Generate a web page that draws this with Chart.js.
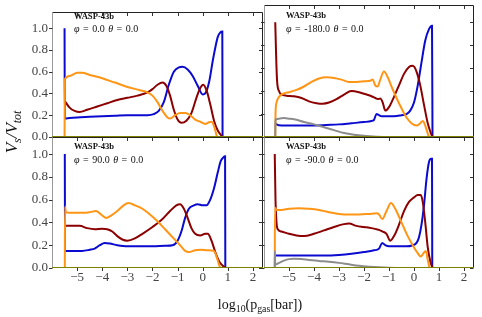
<!DOCTYPE html>
<html><head><meta charset="utf-8">
<script src="https://cdn.jsdelivr.net/npm/chart.js@4/dist/chart.umd.min.js"></script>
<style>
html,body{margin:0;padding:0;background:#fff;}
#fig{position:relative;width:482px;height:317px;overflow:hidden;font-family:"Liberation Serif","DejaVu Serif",serif;color:#111;}
#fig canvas{position:absolute;left:0;top:0;}
.ann{position:absolute;font-size:9px;line-height:1;white-space:nowrap;color:#111;}
.t1{font-weight:bold;font-size:8.6px;}
.t2{font-size:10px;word-spacing:1px;}
.sb{font-size:70%;position:relative;top:0.3em;}
</style></head><body>
<div id="fig">
<canvas id="c0" width="482" height="317"></canvas>
<canvas id="c1" width="482" height="317"></canvas>
<canvas id="c2" width="482" height="317"></canvas>
<canvas id="c3" width="482" height="317"></canvas>
<div class="ann t1" style="left:74px;top:12px">WASP-43b</div>
<div class="ann t2" style="left:74px;top:24px"><i>φ</i> = 0.0 <i>θ</i> = 0.0</div>
<div class="ann t1" style="left:286px;top:11px">WASP-43b</div>
<div class="ann t2" style="left:286px;top:24px"><i>φ</i> = -180.0 <i>θ</i> = 0.0</div>
<div class="ann t1" style="left:74px;top:141.5px">WASP-43b</div>
<div class="ann t2" style="left:74px;top:155px"><i>φ</i> = 90.0 <i>θ</i> = 0.0</div>
<div class="ann t1" style="left:286px;top:141.5px">WASP-43b</div>
<div class="ann t2" style="left:286px;top:155px"><i>φ</i> = -90.0 <i>θ</i> = 0.0</div>
<div style="position:absolute;left:-33px;top:122px;width:90px;height:20px;line-height:20px;text-align:center;transform:rotate(-90deg);font-size:17px;font-style:italic;white-space:nowrap">V<span class="sb">s</span>/V<span class="sb">tot</span></div>
<div style="position:absolute;left:160px;top:298px;width:200px;text-align:center;font-size:14px;line-height:1;white-space:nowrap">log<span class="sb">10</span>(p<span class="sb">gas</span>[bar])</div>
</div>
<script>
// ---- data: [log10 p_gas, V_s/V_tot] ----
const xTicks = [-5, -4, -3, -2, -1, 0, 1, 2];
const yTicks = [0.0, 0.2, 0.4, 0.6, 0.8, 1.0];

// phi = 0.0
const blue0 = [[-5.50,1.00],[-5.49,0.17],[-5.3,0.175],[-5,0.18],[-4.5,0.185],[-4,0.19],[-3.5,0.195],[-3,0.2],[-2.5,0.2],[-2.2,0.2],[-1.95,0.21],[-1.75,0.24],[-1.55,0.32],[-1.35,0.48],[-1.15,0.6],[-0.95,0.64],[-0.8,0.645],[-0.6,0.62],[-0.4,0.56],[-0.2,0.47],[0.0,0.39],[0.1,0.4],[0.25,0.5],[0.4,0.7],[0.5,0.82],[0.6,0.92],[0.7,0.96],[0.78,0.97],[0.79,0.0]];
const red0 = [[-5.49,0.33],[-5.3,0.27],[-5.1,0.24],[-4.9,0.23],[-4.6,0.25],[-4.2,0.28],[-3.8,0.31],[-3.4,0.34],[-3,0.36],[-2.6,0.38],[-2.2,0.41],[-2,0.44],[-1.8,0.48],[-1.6,0.5],[-1.45,0.47],[-1.3,0.38],[-1.15,0.25],[-1.0,0.16],[-0.85,0.13],[-0.65,0.15],[-0.45,0.22],[-0.25,0.36],[-0.1,0.45],[0.02,0.48],[0.15,0.43],[0.3,0.3],[0.45,0.15],[0.6,0.06],[0.79,0.0]];
const orange0 = [[-5.50,0.0],[-5.49,0.53],[-5.3,0.56],[-5.0,0.59],[-4.8,0.59],[-4.5,0.57],[-4,0.54],[-3.5,0.5],[-3,0.46],[-2.5,0.43],[-2.2,0.41],[-2,0.38],[-1.8,0.32],[-1.6,0.24],[-1.4,0.18],[-1.3,0.17],[-1.1,0.2],[-0.9,0.22],[-0.7,0.22],[-0.5,0.2],[-0.3,0.16],[-0.1,0.14],[0.1,0.12],[0.25,0.135],[0.35,0.14],[0.45,0.1],[0.57,0.0]];

// phi = -180.0
const blue180 = [[-5.55,0.12],[-5.5,0.11],[-5.3,0.1],[-5,0.1],[-4.5,0.1],[-4,0.1],[-3.5,0.105],[-3,0.11],[-2.5,0.12],[-2,0.13],[-1.7,0.14],[-1.6,0.15],[-1.5,0.2],[-1.4,0.19],[-1.3,0.18],[-1.1,0.18],[-0.8,0.18],[-0.5,0.19],[-0.3,0.2],[-0.15,0.23],[0.0,0.3],[0.15,0.45],[0.3,0.65],[0.45,0.84],[0.6,0.94],[0.72,0.97],[0.74,0.0]];
const red180 = [[-5.55,1.0],[-5.52,0.75],[-5.48,0.5],[-5.4,0.4],[-5.3,0.37],[-5.1,0.36],[-4.8,0.355],[-4.5,0.34],[-4.2,0.31],[-3.9,0.295],[-3.65,0.29],[-3.4,0.3],[-3.1,0.33],[-2.8,0.37],[-2.5,0.4],[-2.2,0.39],[-1.9,0.37],[-1.7,0.355],[-1.55,0.34],[-1.45,0.33],[-1.35,0.335],[-1.25,0.3],[-1.15,0.23],[-1.0,0.26],[-0.8,0.35],[-0.6,0.45],[-0.4,0.55],[-0.2,0.61],[-0.05,0.62],[0.1,0.57],[0.25,0.45],[0.4,0.28],[0.55,0.12],[0.68,0.03],[0.74,0.0]];
const orange180 = [[-5.55,0.0],[-5.54,0.2],[-5.5,0.3],[-5.4,0.35],[-5.2,0.38],[-5,0.39],[-4.7,0.41],[-4.4,0.44],[-4.1,0.48],[-3.8,0.51],[-3.5,0.52],[-3.2,0.515],[-2.9,0.5],[-2.6,0.48],[-2.3,0.48],[-2,0.485],[-1.75,0.49],[-1.65,0.5],[-1.55,0.45],[-1.45,0.44],[-1.35,0.5],[-1.2,0.57],[-1.05,0.52],[-0.9,0.44],[-0.7,0.34],[-0.5,0.25],[-0.3,0.17],[-0.1,0.12],[0.1,0.1],[0.25,0.12],[0.35,0.14],[0.45,0.1],[0.55,0.03],[0.6,0.0]];
const gray180 = [[-5.55,0.0],[-5.54,0.15],[-5.4,0.16],[-5.2,0.165],[-5,0.16],[-4.7,0.15],[-4.4,0.13],[-4.0,0.11],[-3.6,0.085],[-3.2,0.06],[-2.8,0.035],[-2.4,0.02],[-2,0.01],[-1.5,0.003],[-1,0.0],[0.7,0.0]];

// phi = 90.0
const blue90 = [[-5.49,1.0],[-5.48,0.15],[-5.2,0.15],[-4.8,0.15],[-4.5,0.16],[-4.3,0.17],[-4.1,0.2],[-3.9,0.22],[-3.7,0.215],[-3.4,0.2],[-3,0.19],[-2.5,0.19],[-2,0.19],[-1.5,0.195],[-1.2,0.2],[-1.0,0.24],[-0.85,0.32],[-0.7,0.44],[-0.55,0.52],[-0.35,0.55],[-0.2,0.56],[0.0,0.55],[0.15,0.55],[0.3,0.6],[0.45,0.7],[0.6,0.84],[0.72,0.94],[0.82,0.97],[0.89,0.98],[0.9,0.0]];
const red90 = [[-5.48,0.37],[-5.2,0.37],[-4.9,0.37],[-4.6,0.35],[-4.3,0.34],[-4.0,0.345],[-3.8,0.34],[-3.6,0.32],[-3.4,0.28],[-3.2,0.25],[-3.0,0.24],[-2.7,0.26],[-2.4,0.3],[-2.0,0.36],[-1.6,0.43],[-1.3,0.5],[-1.05,0.55],[-0.9,0.56],[-0.75,0.52],[-0.6,0.44],[-0.45,0.35],[-0.3,0.3],[-0.1,0.285],[0.1,0.3],[0.2,0.3],[0.35,0.24],[0.5,0.14],[0.65,0.06],[0.8,0.02],[0.9,0.0]];
const orange90 = [[-5.49,0.0],[-5.48,0.54],[-5.45,0.49],[-5.2,0.485],[-4.8,0.485],[-4.5,0.49],[-4.25,0.5],[-4.05,0.47],[-3.85,0.44],[-3.65,0.46],[-3.4,0.5],[-3.15,0.55],[-2.95,0.57],[-2.7,0.55],[-2.4,0.52],[-2.1,0.47],[-1.8,0.41],[-1.5,0.34],[-1.2,0.27],[-0.9,0.2],[-0.7,0.15],[-0.55,0.14],[-0.3,0.155],[-0.1,0.16],[0.2,0.155],[0.45,0.15],[0.55,0.1],[0.65,0.03],[0.7,0.0]];

// phi = -90.0
const blueM90 = [[-5.55,0.11],[-5.3,0.11],[-4.8,0.11],[-4.2,0.11],[-3.6,0.11],[-3.0,0.115],[-2.5,0.125],[-2.0,0.14],[-1.6,0.155],[-1.4,0.17],[-1.27,0.22],[-1.15,0.2],[-1.0,0.19],[-0.7,0.19],[-0.3,0.19],[-0.05,0.2],[0.1,0.22],[0.2,0.27],[0.3,0.38],[0.4,0.55],[0.5,0.78],[0.6,0.93],[0.68,0.96],[0.72,0.96],[0.73,0.0]];
const redM90 = [[-5.57,1.0],[-5.54,0.6],[-5.5,0.4],[-5.45,0.34],[-5.3,0.32],[-5.0,0.3],[-4.7,0.285],[-4.4,0.28],[-4.0,0.3],[-3.6,0.33],[-3.2,0.36],[-2.8,0.385],[-2.6,0.39],[-2.3,0.37],[-2.0,0.36],[-1.7,0.35],[-1.5,0.34],[-1.4,0.335],[-1.25,0.32],[-1.1,0.3],[-0.95,0.24],[-0.8,0.28],[-0.6,0.38],[-0.4,0.5],[-0.2,0.58],[0.0,0.62],[0.15,0.64],[0.27,0.64],[0.35,0.58],[0.45,0.4],[0.55,0.18],[0.65,0.06],[0.74,0.0]];
const orangeM90 = [[-5.57,0.0],[-5.56,0.53],[-5.5,0.51],[-5.3,0.51],[-5.0,0.52],[-4.6,0.525],[-4.2,0.52],[-3.8,0.51],[-3.4,0.49],[-3.0,0.475],[-2.6,0.47],[-2.2,0.47],[-1.8,0.475],[-1.5,0.48],[-1.4,0.47],[-1.27,0.43],[-1.1,0.5],[-0.92,0.57],[-0.75,0.52],[-0.5,0.4],[-0.25,0.28],[0.0,0.18],[0.15,0.13],[0.27,0.1],[0.38,0.13],[0.47,0.15],[0.55,0.07],[0.62,0.0]];
const grayM90 = [[-5.57,0.0],[-5.565,0.15],[-5.55,0.03],[-5.4,0.045],[-5.2,0.065],[-5.0,0.078],[-4.8,0.082],[-4.5,0.078],[-4.2,0.07],[-3.8,0.062],[-3.4,0.055],[-3.0,0.045],[-2.6,0.032],[-2.2,0.02],[-1.8,0.012],[-1.4,0.006],[-1,0.002],[-0.5,0.0],[0.7,0.0]];

const baseline = [[-6, 0], [2.4, 0]];

const COL = {blue:'#0a0ad0', red:'#8b0000', orange:'#ff9515', gray:'#8c8c8c', olive:'#808000'};
const XMIN = -6, XMAX = 2.4, YMIN = 0, YMAX = 1.15;

const framePlugin = {
  id: 'frame',
  beforeDatasetsDraw(chart) {
    const {ctx, chartArea: a, scales} = chart;
    const L = Math.round(a.left) + 0.5, R = Math.round(a.right) - 0.5;
    const T = Math.round(a.top) + 0.5, B = Math.round(a.bottom) - 0.5;
    ctx.save();
    ctx.lineWidth = 1;
    ctx.strokeStyle = '#222';
    ctx.beginPath();
    ctx.moveTo(L, T); ctx.lineTo(R, T); ctx.lineTo(R, B); ctx.lineTo(L, B);
    ctx.stroke();
    ctx.strokeStyle = '#999';
    ctx.beginPath(); ctx.moveTo(L, T); ctx.lineTo(L, B); ctx.stroke();
    ctx.strokeStyle = '#333';
    ctx.beginPath();
    for (const t of scales.x.ticks) {
      const px = Math.round(scales.x.getPixelForValue(t.value)) + 0.5;
      if (px <= L + 1 || px >= R - 1) continue;
      ctx.moveTo(px, B); ctx.lineTo(px, B + 3.5);
      ctx.moveTo(px, T); ctx.lineTo(px, T + 3.5);
    }
    for (const t of scales.y.ticks) {
      const py = Math.round(scales.y.getPixelForValue(t.value)) + 0.5;
      ctx.moveTo(L - 3.5, py); ctx.lineTo(L, py);
      ctx.moveTo(R - 3.5, py); ctx.lineTo(R, py);
    }
    ctx.stroke();
    ctx.restore();
  }
};

function fmtX(v) {
  if (!xTicks.includes(v)) return '';
  return v < 0 ? '\u2212' + Math.abs(v) : String(v);
}

function makePanel(id, series, showX, showY, pad) {
  const ds = [{data: baseline, color: COL.olive}].concat(series).map(s => ({
    data: s.data.map(([x, y]) => ({x, y})),
    borderColor: s.color, backgroundColor: s.color,
    borderWidth: 2, pointRadius: 0, fill: false,
    cubicInterpolationMode: 'monotone'
  }));
  new Chart(document.getElementById(id), {
    type: 'line',
    data: {datasets: ds},
    options: {
      responsive: false, animation: false, events: [],
      layout: {padding: pad},
      plugins: {legend: {display: false}, tooltip: {enabled: false}},
      scales: {
        x: {
          type: 'linear', min: XMIN, max: XMAX, display: showX,
          grid: {display: false, drawTicks: false}, border: {display: false},
          ticks: {stepSize: 1, includeBounds: false, autoSkip: false, maxRotation: 0,
                  padding: 2, color: '#444', font: {family: 'Liberation Serif', size: 13},
                  callback: fmtX},
          afterFit: s => { s.height = showX ? 30 : 0; }
        },
        y: {
          type: 'linear', min: YMIN, max: YMAX, display: showY,
          grid: {display: false, drawTicks: false}, border: {display: false},
          ticks: {stepSize: 0.2, includeBounds: false, autoSkip: false,
                  padding: 4, color: '#444', font: {family: 'Liberation Serif', size: 13},
                  callback: v => yTicks.some(t => Math.abs(t - v) < 1e-6) ? v.toFixed(1) : ''},
          afterFit: s => { s.width = showY ? 40 : 0; }
        }
      }
    },
    plugins: [framePlugin]
  });
}

makePanel('c0', [
  {data: orange0, color: COL.orange}, {data: red0, color: COL.red}, {data: blue0, color: COL.blue}
], false, true, {left: 12, top: 5, right: 219, bottom: 180});
makePanel('c1', [
  {data: gray180, color: COL.gray}, {data: orange180, color: COL.orange}, {data: red180, color: COL.red}, {data: blue180, color: COL.blue}
], false, false, {left: 264, top: 5, right: 8, bottom: 180});
makePanel('c2', [
  {data: orange90, color: COL.orange}, {data: red90, color: COL.red}, {data: blue90, color: COL.blue}
], true, true, {left: 12, top: 137, right: 219, bottom: 19});
makePanel('c3', [
  {data: grayM90, color: COL.gray}, {data: orangeM90, color: COL.orange}, {data: redM90, color: COL.red}, {data: blueM90, color: COL.blue}
], true, false, {left: 264, top: 137, right: 8, bottom: 19});
</script>
</body></html>
